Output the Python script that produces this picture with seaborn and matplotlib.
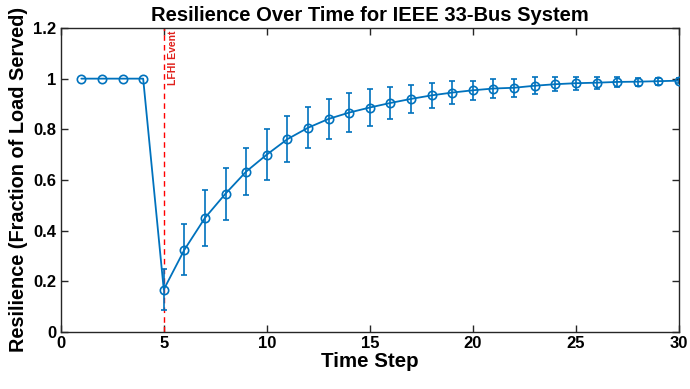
import numpy as np
import pandas as pd
import matplotlib
matplotlib.use('Agg')
import matplotlib.pyplot as plt
import seaborn as sns

# Values
time_step = list(range(1, 31))
resilience = [1.0, 1.0, 1.0, 1.0, 0.167, 0.324, 0.450, 0.546, 0.633, 0.700,
              0.761, 0.806, 0.841, 0.866, 0.886, 0.904, 0.920, 0.934, 0.945, 0.954,
              0.961, 0.964, 0.972, 0.978, 0.982, 0.984, 0.987, 0.988, 0.990, 0.992]
# error bars are only drawn from the event onwards (t >= 5)
err_step = list(range(5, 31))
err_size = [0.080, 0.100, 0.110, 0.103, 0.093, 0.100, 0.090, 0.081, 0.080, 0.076,
            0.072, 0.063, 0.055, 0.048, 0.044, 0.038, 0.038, 0.036, 0.034, 0.028,
            0.026, 0.024, 0.020, 0.016, 0.014, 0.010]
event_step = 5

df = pd.DataFrame({'Time Step': time_step, 'Resilience': resilience})
err_df = df[df['Time Step'] >= event_step].copy()
err_df['err'] = err_size

sns.set_style('ticks')
plt.rcParams['font.family'] = ['Liberation Sans', 'DejaVu Sans']
plt.rcParams['font.weight'] = 'bold'
plt.rcParams['text.color'] = 'black'
plt.rcParams['axes.labelcolor'] = 'black'

blue = '#0072BD'

fig = plt.figure(figsize=(6.9, 3.89), dpi=100)
ax = fig.add_axes([0.088, 0.147, 0.896, 0.781])

ax.errorbar(err_df['Time Step'], err_df['Resilience'], yerr=err_df['err'],
            fmt='none', ecolor=blue, elinewidth=1.2, capsize=2.5, capthick=1.2, zorder=2)
sns.lineplot(data=df, x='Time Step', y='Resilience', ax=ax, color=blue,
             linewidth=1.3, marker='o', markersize=6, markerfacecolor='none',
             markeredgecolor=blue, markeredgewidth=1.2, zorder=3)

ax.axvline(event_step, color='red', linestyle=(0, (4, 3)), linewidth=1.0, zorder=1)
ax.text(event_step + 0.2, 1.19, 'LFHI Event', color='#E0201B', rotation=90,
        fontsize=7.5, fontweight='bold', ha='left', va='top')

ax.set_xlim(0, 30)
ax.set_ylim(0, 1.2)
ax.set_xticks([0, 5, 10, 15, 20, 25, 30])
ax.set_yticks([0, 0.2, 0.4, 0.6, 0.8, 1.0, 1.2])
ax.set_yticklabels(['0', '0.2', '0.4', '0.6', '0.8', '1', '1.2'])
ax.tick_params(direction='in', length=5, width=1, top=True, right=True,
               labelsize=12, colors='#262626', labelcolor='black', pad=3)
for lab in ax.get_xticklabels() + ax.get_yticklabels():
    lab.set_fontweight('bold')
for sp in ax.spines.values():
    sp.set_visible(True)
    sp.set_linewidth(1.0)
    sp.set_color('#262626')

ax.set_title('Resilience Over Time for IEEE 33-Bus System', fontsize=14.5,
             fontweight='bold', pad=5, color='black')
ax.set_xlabel('Time Step', fontsize=14.8, fontweight='bold', labelpad=1)
ax.set_ylabel('Resilience (Fraction of Load Served)', fontsize=14.3,
              fontweight='bold', labelpad=4)

fig.savefig('out.png', dpi=100)
